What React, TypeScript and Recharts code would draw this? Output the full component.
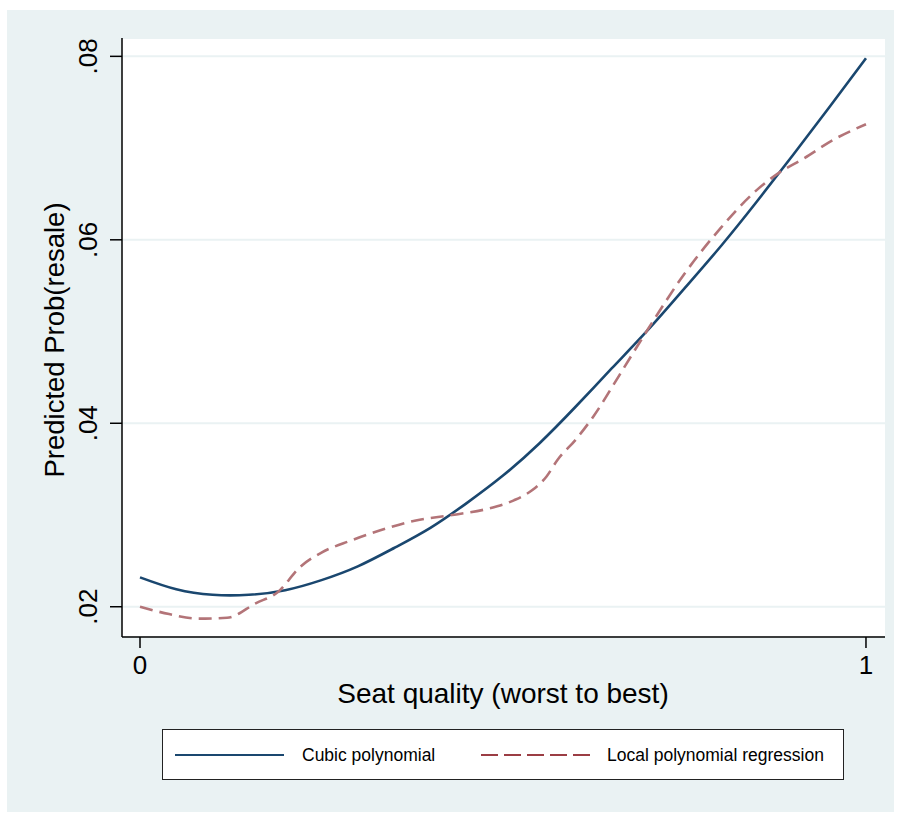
import { LineChart, Line, XAxis, YAxis, CartesianGrid } from 'recharts'

// Cubic polynomial fit
const cubicX = [0, 0.05, 0.1, 0.15, 0.2, 0.25, 0.3, 0.35, 0.4, 0.45, 0.5, 0.55, 0.6, 0.65, 0.7, 0.75, 0.8, 0.85, 0.9, 0.95, 1]
const cubicY = [
  0.0232, 0.0219, 0.0213, 0.0213, 0.0218, 0.0229, 0.0244, 0.0264, 0.0286, 0.0313, 0.0343,
  0.0378, 0.0418, 0.046, 0.0502, 0.0547, 0.0593, 0.0642, 0.0693, 0.0745, 0.0798,
]

// Local polynomial regression
const lpolyX = [
  0, 0.04, 0.08, 0.12, 0.16, 0.19, 0.22, 0.25, 0.29, 0.33, 0.38, 0.43, 0.48, 0.515, 0.54, 0.56,
  0.575, 0.6, 0.625, 0.66, 0.7, 0.75, 0.8, 0.845, 0.88, 0.915, 0.955, 1,
]
const lpolyY = [
  0.02, 0.0192, 0.0187, 0.0188, 0.0204, 0.0216, 0.0243, 0.0259, 0.0272, 0.0283, 0.0294, 0.03,
  0.0307, 0.0316, 0.0327, 0.0342, 0.036, 0.0382, 0.0408, 0.0452, 0.0503, 0.0563, 0.0613, 0.0651,
  0.0673, 0.0689, 0.0709, 0.0726,
]

const xTicks = [0, 1]
const yTicks = [0.02, 0.04, 0.06, 0.08]

const cubicData = cubicX.map((x, i) => ({ x, y: cubicY[i] }))
const lpolyData = lpolyX.map((x, i) => ({ x, y: lpolyY[i] }))

const NAVY = '#1a476f'
const MAROON = '#b37478'
const BG = '#eaf2f3'
const FONT = '"Liberation Sans", Arial, Helvetica, sans-serif'

const YTick = (props: any) => {
  const { y, payload } = props
  const label = payload.value.toFixed(2).replace(/^0/, '')
  return (
    <text
      transform={`translate(97,${y}) rotate(-90)`}
      textAnchor="middle"
      fontSize={26}
      fontFamily={FONT}
      fill="#000"
    >
      {label}
    </text>
  )
}

const XTick = (props: any) => {
  const { x, payload } = props
  return (
    <text x={x} y={674} textAnchor="middle" fontSize={26} fontFamily={FONT} fill="#000">
      {payload.value}
    </text>
  )
}

export default function App() {
  return (
    <div style={{ position: 'absolute', left: 0, top: 0, width: 902, height: 815, background: '#fff', fontFamily: FONT }}>
      <div style={{ position: 'absolute', left: 7, top: 10, width: 887, height: 802, background: BG }} />
      <div style={{ position: 'absolute', left: 0, top: 0 }}>
        <LineChart width={902} height={815} margin={{ top: 38, right: 17, bottom: 118, left: 42 }}>
          <CartesianGrid vertical={false} fill="#fff" stroke={BG} strokeWidth={2} />
          <XAxis
            type="number"
            dataKey="x"
            domain={[-0.0248, 1.0262]}
            ticks={xTicks}
            allowDataOverflow
            height={60}
            tickSize={11}
            tick={<XTick />}
            axisLine={{ stroke: '#000', strokeWidth: 1.5 }}
            tickLine={{ stroke: '#000', strokeWidth: 1.5 }}
          />
          <YAxis
            type="number"
            domain={[0.0167, 0.082]}
            ticks={yTicks}
            allowDataOverflow
            width={80}
            tickSize={12}
            tick={<YTick />}
            axisLine={{ stroke: '#000', strokeWidth: 1.5 }}
            tickLine={{ stroke: '#000', strokeWidth: 1.5 }}
          />
          <Line
            data={cubicData}
            dataKey="y"
            type="natural"
            stroke={NAVY}
            strokeWidth={2.6}
            dot={false}
            isAnimationActive={false}
          />
          <Line
            data={lpolyData}
            dataKey="y"
            type="monotone"
            stroke={MAROON}
            strokeWidth={2.6}
            strokeDasharray="13 7"
            dot={false}
            isAnimationActive={false}
          />
        </LineChart>
      </div>
      <div
        style={{
          position: 'absolute',
          left: 0,
          width: 1006,
          top: 675,
          textAlign: 'center',
          fontSize: 28,
          lineHeight: '38px',
          color: '#000',
        }}
      >
        Seat quality (worst to best)
      </div>
      <div
        style={{
          position: 'absolute',
          left: 55,
          top: 340,
          transform: 'translate(-50%, -50%) rotate(-90deg)',
          whiteSpace: 'nowrap',
          fontSize: 27.5,
          lineHeight: '32px',
          color: '#000',
        }}
      >
        Predicted Prob(resale)
      </div>
      <div
        style={{
          position: 'absolute',
          left: 162,
          top: 729,
          width: 680,
          height: 49,
          border: '1.5px solid #222',
          background: '#fff',
        }}
      >
        <svg width={680} height={49} style={{ position: 'absolute', left: 0, top: 0 }}>
          <line x1={12} x2={121} y1={25} y2={25} stroke={NAVY} strokeWidth={2.2} />
          <line x1={318} x2={428} y1={25} y2={25} stroke="#9b3d44" strokeWidth={2.2} strokeDasharray="17 6" />
          <text x={139} y={31} fontSize={17.5} fontFamily={FONT} fill="#000">
            Cubic polynomial
          </text>
          <text x={444} y={31} fontSize={17.5} fontFamily={FONT} fill="#000">
            Local polynomial regression
          </text>
        </svg>
      </div>
    </div>
  )
}
